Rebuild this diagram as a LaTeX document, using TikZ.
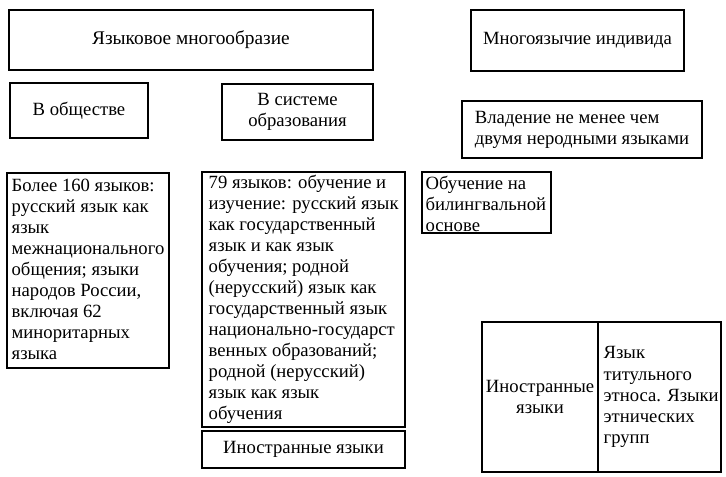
\documentclass[tikz,border=0pt]{standalone}
\usepackage{fontspec}
\setmainfont{Liberation Serif}
\usetikzlibrary{fit}
\begin{document}
\begin{tikzpicture}[x=0.75pt,y=-0.75pt,
  box/.style={draw, line width=0.9pt, inner sep=0pt},
  txt/.style={inner sep=0pt, font=\fontsize{14}{15.8}\selectfont, align=left},
  ctxt/.style={inner sep=0pt, font=\fontsize{14}{15.8}\selectfont, align=center}]
\useasboundingbox[fill=white] (0,0) rectangle (726,477);
\node[box, fit={(9,10) (373,70)}] (b1) {};
\node[ctxt, font=\fontsize{14.5}{15.8}\selectfont] (t1) at (b1) {Языковое многообразие};
\node[box, fit={(471,10) (684,71)}] (b2) {};
\node[ctxt] (t2) at (b2) {Многоязычие индивида};
\node[box, fit={(10,83) (148,138)}] (b3) {};
\node[ctxt] (t3) at (b3) {В обществе};
\node[box, fit={(222,84) (373,140)}] (b4) {};
\node[ctxt] (t4) at (b4) {В системе\\образования};
\node[box, fit={(462,101) (702,158)}] (b5) {};
\node[txt] (t5) at (b5) {Владение не менее чем\\двумя неродными языками};
\node[box, fit={(422,172) (551,233)}] (b6) {};
\node[txt, anchor=north west] (t6) at ([shift={(4,4)}]b6.north west) {Обучение на\\билингвальной\\основе};
\node[box, fit={(7,173) (169,368)}] (b7) {};
\node[txt, anchor=north west] (t7) at ([shift={(5,6)}]b7.north west) {Более 160 языков:\\русский язык как\\язык\\межнационального\\общения; языки\\народов России,\\включая 62\\миноритарных\\языка};
\node[box, fit={(202,172) (405,427)}] (b8) {};
\node[txt, anchor=north west] (t8) at ([shift={(7,3)}]b8.north west) {79 языков: обучение и\\изучение: русский язык\\как государственный\\язык и как язык\\обучения; родной\\(нерусский) язык как\\государственный язык\\национально-государст\\венных образований;\\родной (нерусский)\\язык как язык\\обучения};
\node[box, fit={(202,431) (405,468)}] (b9) {};
\node[ctxt] (t9) at (b9) {Иностранные языки};
\node[box, fit={(482,322) (598,472)}] (b10) {};
\node[ctxt] (t10) at (b10) {Иностранные\\языки};
\node[box, fit={(598,322) (721,472)}] (b11) {};
\node[txt, anchor=west] (t11) at ([xshift=4.5pt]b11.west) {Язык\\титульного\\этноса. Языки\\этнических\\групп};
\end{tikzpicture}
\end{document}
